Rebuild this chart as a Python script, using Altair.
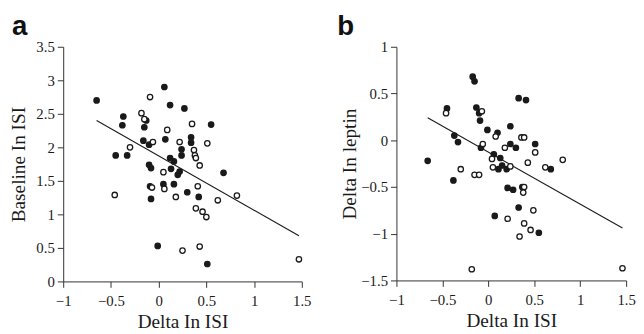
import altair as alt
import pandas as pd

# Panel a: Delta ln ISI vs Baseline ln ISI
a_filled_x = [-0.65, 0.06, 0.12, 0.27, -0.37, -0.38, -0.13, -0.15, -0.16, -0.10,
              -0.45, -0.33, 0.07, 0.34, 0.34, 0.24, 0.24, 0.55, 0.12, 0.16,
              -0.10, -0.08, 0.13, 0.22, 0.20, 0.05, 0.16, -0.09, -0.08, 0.30,
              0.42, 0.68, -0.01, 0.51]
a_filled_y = [2.70, 2.90, 2.63, 2.58, 2.46, 2.33, 2.40, 2.30, 2.10, 2.04,
              1.88, 1.88, 2.12, 2.15, 2.07, 1.97, 1.88, 2.34, 1.84, 1.79,
              1.74, 1.69, 1.68, 1.64, 1.59, 1.45, 1.45, 1.42, 1.23, 1.33,
              1.26, 1.62, 0.53, 0.26]
a_open_x = [-0.09, -0.18, -0.15, 0.09, 0.35, -0.30, -0.06, 0.22, 0.51, 0.37,
            0.38, 0.39, 0.43, 0.05, -0.07, 0.06, 0.41, -0.46, 0.18, 0.62,
            0.82, 0.39, 0.46, 0.50, 0.25, 0.43, 1.47]
a_open_y = [2.75, 2.51, 2.42, 2.26, 2.35, 2.00, 2.08, 2.08, 2.06, 1.96,
            1.88, 1.84, 1.73, 1.63, 1.40, 1.38, 1.42, 1.29, 1.26, 1.21,
            1.28, 1.09, 1.04, 0.96, 0.46, 0.52, 0.33]
a_fit_x = [-0.65, 1.47]
a_fit_y = [2.40, 0.68]

# Panel b: Delta ln ISI vs Delta ln leptin
b_filled_x = [-0.17, -0.15, -0.45, -0.13, -0.10, -0.09, 0.33, 0.41, -0.01, 0.10,
              0.24, -0.37, -0.33, -0.08, 0.24, 0.30, 0.51, 0.06, 0.13, 0.15,
              0.20, 0.11, -0.66, 0.68, -0.38, 0.21, 0.27, 0.37, 0.33, 0.07, 0.55]
b_filled_y = [0.68, 0.63, 0.34, 0.35, 0.29, 0.21, 0.45, 0.43, 0.11, 0.08,
              0.15, 0.05, -0.02, -0.08, -0.04, -0.08, -0.04, -0.15, -0.19, -0.27,
              -0.31, -0.31, -0.22, -0.31, -0.43, -0.51, -0.53, -0.50, -0.72, -0.81, -0.99]
b_open_x = [-0.46, -0.07, 0.08, -0.06, 0.18, 0.36, 0.39, 0.51, 0.04, 0.05,
            0.24, 0.43, 0.62, 0.81, -0.30, -0.15, -0.10, 0.39, 0.38, 0.49,
            0.21, 0.39, 0.46, 0.34, -0.18, 1.46]
b_open_y = [0.29, 0.31, 0.04, -0.04, -0.08, 0.03, 0.03, -0.13, -0.20, -0.29,
            -0.28, -0.24, -0.29, -0.21, -0.31, -0.37, -0.37, -0.50, -0.56, -0.75,
            -0.84, -0.89, -0.96, -1.03, -1.38, -1.37]
b_fit_x = [-0.66, 1.46]
b_fit_y = [0.24, -0.94]

x_ticks = [-1, -0.5, 0, 0.5, 1, 1.5]
a_y_ticks = [0, 0.5, 1, 1.5, 2, 2.5, 3, 3.5]
b_y_ticks = [-1.5, -1, -0.5, 0, 0.5, 1]

SERIF = "Liberation Serif"
INK = "#1a1a1a"


def axis(values, title, title_pad, label_pad):
    return alt.Axis(
        values=values, format="~g", title=title, grid=False,
        domainColor="#333", tickColor="#333", tickSize=6, tickWidth=1, domainWidth=1,
        labelFont=SERIF, labelFontSize=15, labelColor=INK, labelPadding=label_pad,
        labelOverlap=False, labelFlush=False,
        titleFont=SERIF, titleFontSize=19.5, titleFontWeight="normal", titleColor=INK,
        titlePadding=title_pad,
    )


def panel(fx, fy, ox, oy, lx, ly, ydom, yvals, ytitle, ytitle_pad, label, tag_dx, w, h):
    pts = pd.DataFrame({
        "x": fx + ox,
        "y": fy + oy,
        "g": ["filled"] * len(fx) + ["open"] * len(ox),
    })
    fit = pd.DataFrame({"x": lx, "y": ly})
    xs = alt.Scale(domain=[-1, 1.5], nice=False, zero=False)
    ys = alt.Scale(domain=ydom, nice=False, zero=False)
    xax = axis(x_ticks, "Delta In ISI", 5, 6)
    yax = axis(yvals, ytitle, ytitle_pad, 3)
    enc_x = alt.X("x:Q", scale=xs, axis=xax)
    enc_y = alt.Y("y:Q", scale=ys, axis=yax)
    line = alt.Chart(fit).mark_line(color=INK, strokeWidth=1.1).encode(x=enc_x, y=enc_y)
    points = alt.Chart(pts).mark_point(
        shape="circle", size=30, filled=True, stroke=INK, strokeWidth=1.3, opacity=1
    ).encode(
        x=enc_x,
        y=enc_y,
        fill=alt.Fill("g:N", scale=alt.Scale(domain=["filled", "open"], range=[INK, "white"]), legend=None),
    )
    tag = alt.Chart(pd.DataFrame({"t": [label]})).mark_text(
        font="Liberation Sans", fontWeight="bold", fontSize=28, color="#111",
        align="left", baseline="alphabetic",
    ).encode(text="t:N", x=alt.value(tag_dx), y=alt.value(-12))
    return alt.layer(line, points, tag).properties(width=w, height=h)


pa = panel(a_filled_x, a_filled_y, a_open_x, a_open_y, a_fit_x, a_fit_y,
           [0, 3.5], a_y_ticks, "Baseline In ISI", 7, "a", -52, 242, 238)
pb = panel(b_filled_x, b_filled_y, b_open_x, b_open_y, b_fit_x, b_fit_y,
           [-1.5, 1], b_y_ticks, "Delta In leptin", 1, "b", -60, 233, 237)

chart = alt.hconcat(pa, pb, spacing=96, bounds="flush").properties(
    padding={"left": 1, "top": 3, "right": 0, "bottom": 0}
).configure_view(stroke=None)

chart.save("out.html", embed_options={"renderer": "svg", "actions": False})
